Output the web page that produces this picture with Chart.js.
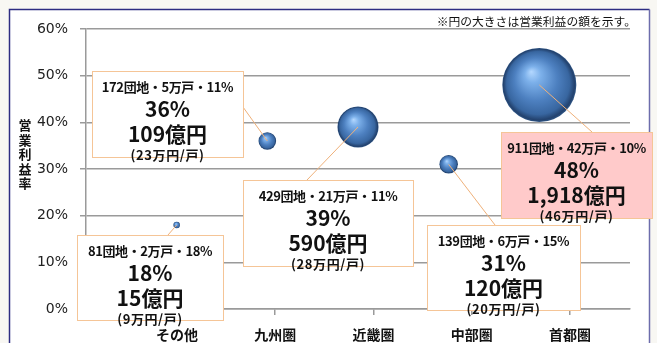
<!DOCTYPE html>
<html lang="ja">
<head>
<meta charset="utf-8">
<script src="https://cdn.jsdelivr.net/npm/chart.js@4.4.1/dist/chart.umd.min.js"></script>
<style>
  html, body { margin: 0; padding: 0; background: #f8f7f3; }
  #chart { display: block; }
</style>
</head>
<body>
<canvas id="chart" width="657" height="343"></canvas>
<script>
const regions = ['その他', '九州圏', '近畿圏', '中部圏', '首都圏'];
const margins = [18, 36, 39, 31, 48];          // 営業利益率 (%)
const profits = [15, 109, 590, 120, 1918];      // 営業利益 (億円)
const estates = [81, 172, 429, 139, 911];       // 団地数
const units = [2, 5, 21, 6, 42];                // 戸数 (万戸)
const unitShares = [18, 11, 11, 15, 10];        // 戸数の割合 (%)
const perUnit = [9, 23, 28, 20, 46];            // 1戸あたり (万円)

const JP = '"Noto Sans CJK JP", "Noto Sans", sans-serif';
const GRID = '#9a9a9a';

// 吹き出しの枠 [left, top, width, height] と引き出し線の終点
const boxes = [
  { rect: [77, 235, 146, 85], anchor: [168, 235] },
  { rect: [92, 71, 151, 86], anchor: [243, 107] },
  { rect: [243, 180, 170, 86], anchor: [307, 180] },
  { rect: [427, 225, 153, 85], anchor: [495, 225] },
  { rect: [501, 132, 151, 86], anchor: [592, 132], fill: '#ffcaca' }
];

// 円の面積 = 営業利益
const bubbleScale = 0.845;
const bubbles = regions.map((r, i) => ({
  x: i + 1,
  y: margins[i],
  r: bubbleScale * Math.sqrt(profits[i])
}));

function sphere(ctx) {
  const c = ctx.chart;
  const raw = ctx.raw;
  if (!raw || !c.scales.x || !c.scales.y) return '#4f81bd';
  const cx = c.scales.x.getPixelForValue(raw.x);
  const cy = c.scales.y.getPixelForValue(raw.y);
  const r = raw.r;
  if (![cx, cy, r].every(Number.isFinite)) return '#4f81bd';
  const g = c.ctx.createRadialGradient(cx - 0.22 * r, cy - 0.36 * r, 0, cx, cy, r);
  g.addColorStop(0, '#b4d8ff');
  g.addColorStop(0.22, '#7cb0ea');
  g.addColorStop(0.58, '#4d80c0');
  g.addColorStop(0.85, '#3866a0');
  g.addColorStop(0.96, '#23426e');
  g.addColorStop(1, '#2f5686');
  return g;
}

const frame = {
  id: 'frame',
  beforeDraw(chart) {
    const ctx = chart.ctx;
    ctx.save();
    ctx.fillStyle = '#f8f7f3';
    ctx.fillRect(0, 0, chart.width, chart.height);
    ctx.fillStyle = '#ffffff';
    ctx.fillRect(10, 10, 639, chart.height);
    ctx.lineWidth = 1.5;
    ctx.strokeStyle = '#2d2d82';
    ctx.beginPath();
    ctx.moveTo(9.5, chart.height);
    ctx.lineTo(9.5, 9.5);
    ctx.lineTo(649.5, 9.5);
    ctx.stroke();
    ctx.strokeStyle = '#6d6dac';
    ctx.beginPath();
    ctx.moveTo(649.5, 9.5);
    ctx.lineTo(649.5, chart.height);
    ctx.stroke();

    // 縦書きの軸タイトル
    ctx.fillStyle = '#111';
    ctx.font = 'bold 13px ' + JP;
    ctx.textAlign = 'center';
    ctx.textBaseline = 'middle';
    [...'営業利益率'].forEach((ch, i) => ctx.fillText(ch, 25, 125 + i * 14.6));

    ctx.font = '11.8px ' + JP;
    ctx.textAlign = 'right';
    ctx.fillText('※円の大きさは営業利益の額を示す。', 636, 22);
    ctx.restore();
  }
};

const callouts = {
  id: 'callouts',
  afterDraw(chart) {
    const ctx = chart.ctx;
    const meta = chart.getDatasetMeta(0);
    ctx.save();
    // 引き出し線
    ctx.strokeStyle = '#efb17a';
    ctx.lineWidth = 1;
    meta.data.forEach((el, i) => {
      ctx.beginPath();
      ctx.moveTo(el.x, el.y);
      ctx.lineTo(boxes[i].anchor[0], boxes[i].anchor[1]);
      ctx.stroke();
    });
    // 吹き出し
    boxes.forEach((b, i) => {
      const [x, y, w, h] = b.rect;
      ctx.fillStyle = b.fill || '#ffffff';
      ctx.fillRect(x, y, w, h);
      ctx.strokeStyle = '#f5c597';
      ctx.strokeRect(x + 0.5, y + 0.5, w, h);
      const lines = [
        [`${estates[i]}団地・${units[i]}万戸・${unitShares[i]}%`, 'bold 13px ', 16, '-0.4px'],
        [`${margins[i]}%`, 'bold 21px ', 38, '0px'],
        [`${profits[i].toLocaleString('en-US')}億円`, 'bold 21px ', 63, '0px'],
        [`(${perUnit[i]}万円/戸)`, 'bold 13px ', 84, '0.6px']
      ];
      ctx.fillStyle = '#111';
      ctx.textAlign = 'center';
      ctx.textBaseline = 'middle';
      lines.forEach(([t, f, dy, ls]) => {
        ctx.font = f + JP;
        ctx.letterSpacing = ls;
        ctx.fillText(t, x + w / 2, y + dy);
      });
      ctx.letterSpacing = '0px';
    });
    ctx.restore();
  }
};

new Chart(document.getElementById('chart'), {
  type: 'bubble',
  data: {
    datasets: [{
      label: '営業利益率',
      data: bubbles,
      backgroundColor: sphere,
      borderWidth: 0
    }]
  },
  options: {
    responsive: false,
    animation: false,
    events: [],
    devicePixelRatio: 1,
    layout: { autoPadding: false, padding: { left: 0, right: 27, top: 29, bottom: 0 } },
    plugins: { legend: { display: false }, tooltip: { enabled: false } },
    scales: {
      x: { type: 'linear', min: 0, max: 6, display: false },
      xl: {
        type: 'linear',
        position: 'bottom',
        min: 0.074,
        max: 5.611,
        afterBuildTicks: s => { s.ticks = regions.map((r, i) => ({ value: i + 1 })); },
        afterFit: s => { s.height = 34; },
        grid: { drawOnChartArea: false, color: GRID, lineWidth: 1.5, tickLength: 6 },
        border: { color: GRID, width: 1.5 },
        ticks: {
          autoSkip: false,
          maxRotation: 0,
          padding: 11,
          color: '#111',
          font: { family: JP, size: 14, weight: 'bold' },
          callback: v => regions[v - 1] || ''
        }
      },
      y: {
        min: 0,
        max: 60,
        afterFit: s => { s.width = 86; },
        grid: { color: GRID, lineWidth: 1.5, tickLength: 6 },
        border: { color: GRID, width: 1.5 },
        ticks: {
          stepSize: 10,
          padding: 12,
          color: '#222',
          font: { family: '"DejaVu Sans", sans-serif', size: 14 },
          callback: v => v + '%'
        }
      }
    }
  },
  plugins: [frame, callouts]
});
</script>
</body>
</html>
